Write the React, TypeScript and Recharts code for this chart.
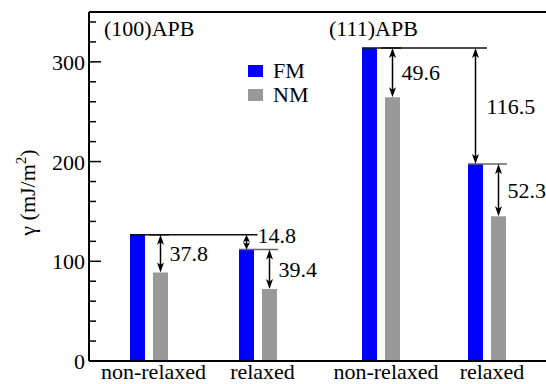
import {
  BarChart,
  Bar,
  XAxis,
  YAxis,
  ReferenceLine,
  LabelList,
  Legend,
  Label,
} from "recharts"

const categories = ["non-relaxed", "relaxed"]
const seriesNames = ["FM", "NM"]
const panelTitles = ["(100)APB", "(111)APB"]

// (100) APB
const fm100 = [126.5, 111.7]
const nm100 = [88.7, 72.3]
const split100 = ["37.8", "39.4"]
const relaxGain100 = "14.8"

// (111) APB
const fm111 = [314.0, 197.5]
const nm111 = [264.4, 145.2]
const split111 = ["49.6", "52.3"]
const relaxGain111 = "116.5"

const yTicks = [0, 20, 40, 60, 80, 100, 120, 140, 160, 180, 200, 220, 240, 260, 280, 300, 320, 340]
const yMajor = [0, 100, 200, 300]
const yDomain = [0, 350]

const FONT = "Liberation Serif, Tinos, DejaVu Serif, serif"
const BAR = 15
const GAP = 8
const FM_COLOR = "#0000ff"
const NM_COLOR = "#999999"
const LEVEL_COLORS = ["#111", "#666"]

function DoubleArrow({ x, y1, y2 }: { x: number; y1: number; y2: number }) {
  const top = Math.min(y1, y2)
  const bot = Math.max(y1, y2)
  const h = Math.min(10, (bot - top) / 2)
  const w = 3.5
  return (
    <g>
      <line x1={x} x2={x} y1={top + h * 0.5} y2={bot - h * 0.5} stroke="#000" strokeWidth={1.5} />
      <path d={`M${x},${top} L${x - w},${top + h} L${x},${top + h * 0.75} L${x + w},${top + h} Z`} fill="#000" />
      <path d={`M${x},${bot} L${x - w},${bot - h} L${x},${bot - h * 0.75} L${x + w},${bot - h} Z`} fill="#000" />
    </g>
  )
}

// drawn on the NM bars: FM level line, FM-NM arrow, and on "relaxed" the relaxation arrow
function splitMarks(fm: number[], nm: number[], split: string[], gain: string) {
  return (props: any) => {
    const index = props.index
    const vb = props.viewBox ?? props
    const x = Number(vb.x)
    const y = Number(vb.y)
    const width = Number(vb.width)
    const height = Number(vb.height)
    const base = y + height
    const unit = height / nm[index]
    const fmTop = base - fm[index] * unit
    const fmLeft = x - GAP - width
    const ax = x + width / 2
    const txt = { fontFamily: FONT, fontSize: 22, fill: "#000" }
    return (
      <g>
        <line
          x1={fmLeft}
          x2={x + width + 1}
          y1={fmTop}
          y2={fmTop}
          stroke={LEVEL_COLORS[index]}
          strokeWidth={1.5}
        />
        <DoubleArrow x={ax} y1={fmTop} y2={y} />
        <text x={ax + 9} y={(fmTop + y) / 2} dy="0.35em" {...txt}>{split[index]}</text>
        {index === 1 && (() => {
          const prevTop = base - fm[0] * unit
          const gx = fmLeft + width / 2
          const ly = Math.min((prevTop + fmTop) / 2, fmTop - 14)
          return (
            <g>
              <DoubleArrow x={gx} y1={prevTop} y2={fmTop} />
              <text x={gx + 11} y={ly} dy="0.35em" {...txt}>{gain}</text>
            </g>
          )
        })()}
      </g>
    )
  }
}

const LeftTick = (props: any) => {
  const { x, y, payload } = props
  const major = yMajor.includes(payload.value)
  const ax = x + 4
  return (
    <g>
      <line x1={ax} x2={ax + (major ? 12 : 7)} y1={y} y2={y} stroke="#000" strokeWidth={1.5} />
      {major && (
        <text x={x} y={y} dy="0.37em" textAnchor="end" fontFamily={FONT} fontSize={22} fill="#000">
          {payload.value}
        </text>
      )}
    </g>
  )
}

const RightTick = (props: any) => {
  const { x, y, payload } = props
  const major = yMajor.includes(payload.value)
  return <line x1={x} x2={x - (major ? 12 : 7)} y1={y} y2={y} stroke="#000" strokeWidth={1.5} />
}

const CatTick = (props: any) => {
  const { x, y, payload } = props
  return (
    <text x={x + 5} y={y} dy="0.71em" textAnchor="middle" fontFamily={FONT} fontSize={22} fill="#000">
      {payload.value}
    </text>
  )
}

const renderYLabel = (props: any) => {
  const vb = props.viewBox
  const cx = vb.x + 6
  const cy = vb.y + vb.height / 2 + 6
  return (
    <text
      x={cx}
      y={cy}
      transform={`rotate(-90 ${cx} ${cy})`}
      textAnchor="middle"
      fontFamily={FONT}
      fontSize={22}
      fill="#000"
    >
      γ (mJ/m<tspan dy={-9} fontSize={15}>2</tspan>
      <tspan dy={9}>)</tspan>
    </text>
  )
}

const titleLabel = (title: string, dx: number) => (props: any) => {
  const vb = props.viewBox
  return (
    <text x={vb.x + dx} y={vb.y + 24} fontFamily={FONT} fontSize={22} fill="#000">
      {title}
    </text>
  )
}

const renderLegend = (props: any) => (
  <div style={{ fontFamily: FONT, fontSize: 22, lineHeight: "24px", color: "#000" }}>
    {(props.payload ?? []).map((e: any) => (
      <div key={e.value} style={{ display: "flex", alignItems: "center" }}>
        <span style={{ display: "inline-block", width: 15, height: 12, background: e.color, marginRight: 10 }} />
        {e.value}
      </div>
    ))}
  </div>
)

const axisLine = { stroke: "#000", strokeWidth: 2 }

export default function App() {
  const data100 = categories.map((c, i) => ({ cat: c, fm: fm100[i], nm: nm100[i] }))
  const data111 = categories.map((c, i) => ({ cat: c, fm: fm111[i], nm: nm111[i] }))

  return (
    <div
      style={{
        position: "absolute",
        left: 0,
        top: 0,
        width: 546,
        height: 384,
        overflow: "hidden",
        background: "#fff",
        fontFamily: FONT,
      }}
    >
      <div style={{ position: "absolute", left: 0, top: 0 }}>
        <BarChart
          width={324}
          height={384}
          data={data100}
          margin={{ top: 12, right: 2, bottom: 0, left: 29 }}
          barGap={GAP}
          barSize={BAR}
        >
          <XAxis
            dataKey="cat"
            height={23}
            padding={{ left: 5, right: 10 }}
            tickLine={false}
            tickSize={0}
            tickMargin={2}
            interval={0}
            axisLine={axisLine}
            tick={CatTick}
          />
          <YAxis
            yAxisId="l"
            domain={yDomain}
            ticks={yTicks}
            interval={0}
            width={60}
            tickSize={0}
            tickMargin={4}
            tickLine={false}
            axisLine={axisLine}
            tick={LeftTick}
          >
            <Label content={renderYLabel} />
          </YAxis>
          <YAxis
            yAxisId="d"
            orientation="right"
            domain={yDomain}
            width={0}
            tick={false}
            tickLine={false}
            axisLine={axisLine}
          />
          <ReferenceLine yAxisId="l" y={350} stroke="#000" strokeWidth={2} label={titleLabel(panelTitles[0], 15)} />
          <ReferenceLine
            yAxisId="l"
            segment={[
              { x: categories[0], y: fm100[0] },
              { x: categories[1], y: fm100[0] },
            ]}
            stroke={LEVEL_COLORS[0]}
            strokeWidth={1.5}
          />
          <Bar yAxisId="l" dataKey="fm" name={seriesNames[0]} fill={FM_COLOR} isAnimationActive={false} />
          <Bar yAxisId="l" dataKey="nm" name={seriesNames[1]} fill={NM_COLOR} isAnimationActive={false}>
            <LabelList dataKey="nm" content={splitMarks(fm100, nm100, split100, relaxGain100)} />
          </Bar>
          <Legend
            layout="vertical"
            align="center"
            verticalAlign="middle"
            wrapperStyle={{ left: 248, top: 59, width: 80 }}
            content={renderLegend}
          />
        </BarChart>
      </div>

      <div style={{ position: "absolute", left: 322, top: 0 }}>
        <BarChart
          width={233}
          height={384}
          data={data111}
          margin={{ top: 12, right: 0, bottom: 0, left: 0 }}
          barGap={GAP}
          barSize={BAR}
        >
          <XAxis
            dataKey="cat"
            height={23}
            padding={{ left: 6, right: 15 }}
            tickLine={false}
            tickSize={0}
            tickMargin={2}
            interval={0}
            axisLine={axisLine}
            tick={CatTick}
          />
          <YAxis
            yAxisId="r"
            orientation="right"
            domain={yDomain}
            ticks={yTicks}
            interval={0}
            width={0}
            tickSize={0}
            tickMargin={0}
            tickLine={false}
            axisLine={axisLine}
            tick={RightTick}
          />
          <ReferenceLine yAxisId="r" y={350} stroke="#000" strokeWidth={2} label={titleLabel(panelTitles[1], 7)} />
          <ReferenceLine
            yAxisId="r"
            segment={[
              { x: categories[0], y: fm111[0] },
              { x: categories[1], y: fm111[0] },
            ]}
            stroke={LEVEL_COLORS[0]}
            strokeWidth={1.5}
          />
          <Bar yAxisId="r" dataKey="fm" name={seriesNames[0]} fill={FM_COLOR} isAnimationActive={false} />
          <Bar yAxisId="r" dataKey="nm" name={seriesNames[1]} fill={NM_COLOR} isAnimationActive={false}>
            <LabelList dataKey="nm" content={splitMarks(fm111, nm111, split111, relaxGain111)} />
          </Bar>
        </BarChart>
      </div>
    </div>
  )
}
